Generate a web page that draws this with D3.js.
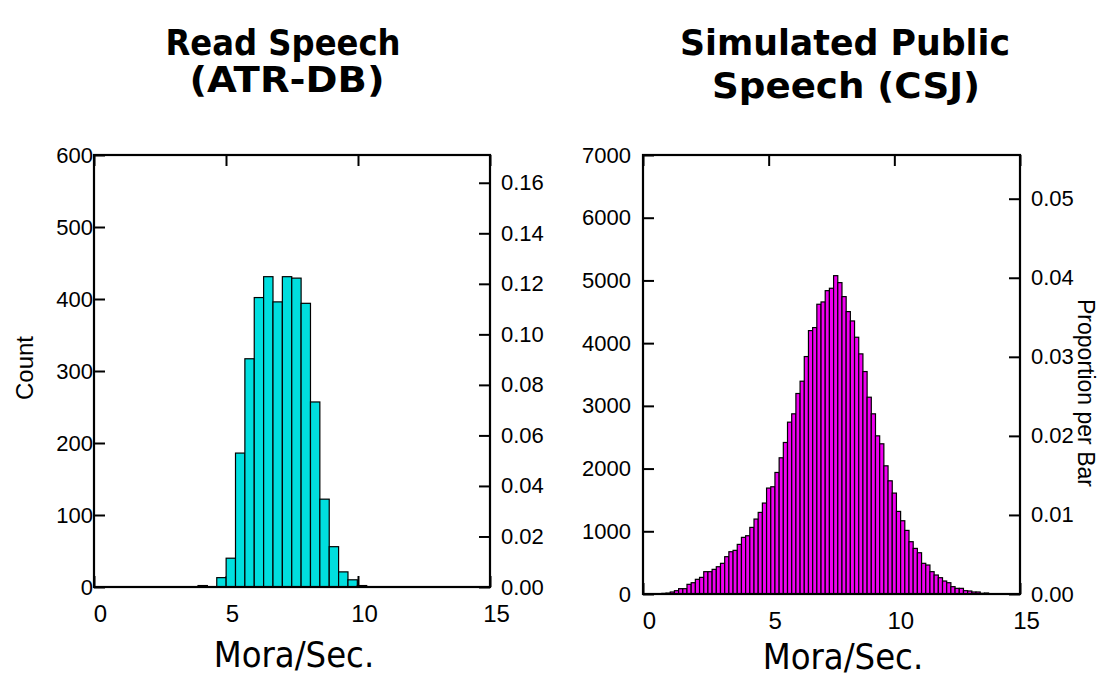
<!DOCTYPE html>
<html>
<head>
<meta charset="utf-8">
<script src="https://cdn.jsdelivr.net/npm/d3@7"></script>
<style>
  html, body { margin: 0; padding: 0; background: #fff; }
  svg { display: block; }
</style>
</head>
<body>
<svg id="chart" width="1104" height="682"></svg>
<script>
// ---------------- DATA ----------------
// Read Speech (ATR-DB): counts per bar
const leftCounts = [2, 0, 13, 40, 186, 317, 402, 431, 396, 431, 429, 394, 257, 122, 56, 21, 10, 2];
const leftBinStart = 3.94;
const leftBinWidth = 0.355;

// Simulated Public Speech (CSJ): counts per bar
const rightCounts = [
  10, 15, 32, 53, 85, 85, 154, 180, 234, 265,
  356, 356, 393, 435, 489, 595, 674, 696, 791, 903,
  929, 1062, 1195, 1301, 1450, 1689, 1710, 1938, 2172, 2416,
  2740, 2873, 3197, 3393, 3786, 4200, 4248, 4620, 4657, 4837,
  4875, 5076, 4965, 4742, 4503, 4354, 4094, 3829, 3547, 3138,
  2873, 2522, 2395, 2044, 1805, 1609, 1317, 1168, 1014, 834,
  727, 658, 489, 462, 356, 303, 260, 207, 180, 117,
  90, 90, 53, 48, 32, 32, 11, 16, 3, 3, 2, 2, 1, 1, 1
];
const rightBinStart = 0.75;
const rightBinWidth = 1 / 6;

const xTicks = [0, 5, 10, 15];
const leftCountTicks = [0, 100, 200, 300, 400, 500, 600];
const leftPropTicks = [0, 0.02, 0.04, 0.06, 0.08, 0.10, 0.12, 0.14, 0.16];
const rightCountTicks = [0, 1000, 2000, 3000, 4000, 5000, 6000, 7000];
const rightPropTicks = [0, 0.01, 0.02, 0.03, 0.04, 0.05];

const titles = [["Read Speech", "(ATR-DB)"], ["Simulated Public", "Speech (CSJ)"]];
const xLabel = "Mora/Sec.";
const yLabelLeft = "Count";
const yLabelRight = "Proportion per Bar";

// ---------------- DRAW ----------------
const svg = d3.select("#chart");
const tickFont = "'Liberation Sans', Arial, sans-serif";
const titleFont = "'DejaVu Sans Condensed', 'DejaVu Sans', Tahoma, sans-serif";

function panel(cfg) {
  const g = svg.append("g");
  const x = d3.scaleLinear().domain([0, 15]).range([cfg.x0, cfg.x1]);
  const y = d3.scaleLinear().domain([0, cfg.yMax]).range([cfg.y1, cfg.y0]);
  const total = d3.sum(cfg.counts);
  const yp = d3.scaleLinear().domain([0, cfg.yMax / total]).range([cfg.y1, cfg.y0]);

  // ticks (inward)
  const bottom = g.append("g").attr("transform", `translate(0,${cfg.y1})`)
    .call(d3.axisBottom(x).tickValues(xTicks).tickFormat(d3.format("d"))
      .tickSizeInner(-11).tickSizeOuter(0).tickPadding(18));
  bottom.select(".domain").remove();
  bottom.selectAll("text").attr("font-size", 24).attr("font-family", tickFont).attr("dx", 6).attr("fill", "#000");
  bottom.selectAll("line").attr("stroke-width", 2);

  const top = g.append("g").attr("transform", `translate(0,${cfg.y0})`)
    .call(d3.axisTop(x).tickValues(xTicks).tickFormat("").tickSizeInner(-11).tickSizeOuter(0));
  top.select(".domain").remove();
  top.selectAll("line").attr("stroke-width", 2);

  const left = g.append("g").attr("transform", `translate(${cfg.x0},0)`)
    .call(d3.axisLeft(y).tickValues(cfg.countTicks).tickFormat(d3.format("d"))
      .tickSizeInner(-11).tickSizeOuter(0).tickPadding(cfg.leftPad));
  left.select(".domain").remove();
  left.selectAll("text").attr("font-size", 22).attr("font-family", tickFont).attr("fill", "#000");
  left.selectAll("line").attr("stroke-width", 2);

  const right = g.append("g").attr("transform", `translate(${cfg.x1},0)`)
    .call(d3.axisRight(yp).tickValues(cfg.propTicks).tickFormat(d3.format(".2f"))
      .tickSizeInner(-11).tickSizeOuter(0).tickPadding(11));
  right.select(".domain").remove();
  right.selectAll("text").attr("font-size", 22).attr("font-family", tickFont).attr("fill", "#000");
  right.selectAll("line").attr("stroke-width", 2);

  // bars
  const bins = cfg.counts.map((c, i) => ({
    c,
    lo: cfg.binStart + i * cfg.binWidth,
    hi: cfg.binStart + (i + 1) * cfg.binWidth
  })).filter(b => b.c > 0);
  g.append("g").selectAll("rect").data(bins).join("rect")
    .attr("x", b => x(b.lo))
    .attr("width", b => x(b.hi) - x(b.lo))
    .attr("y", b => y(b.c))
    .attr("height", b => y(0) - y(b.c))
    .attr("fill", cfg.color)
    .attr("stroke", "#000")
    .attr("stroke-width", 1.2);

  // frame
  g.append("rect")
    .attr("x", cfg.x0).attr("y", cfg.y0)
    .attr("width", cfg.x1 - cfg.x0).attr("height", cfg.y1 - cfg.y0)
    .attr("fill", "none").attr("stroke", "#000").attr("stroke-width", 2.2);

  // titles
  cfg.title.forEach((t, k) => {
    g.append("text")
      .attr("x", cfg.titleX[k]).attr("y", cfg.titleY[k])
      .attr("text-anchor", "middle")
      .attr("font-family", titleFont).attr("font-weight", "bold").attr("font-size", 36)
      .attr("textLength", cfg.titleW[k]).attr("lengthAdjust", "spacingAndGlyphs")
      .attr("fill", "#000")
      .text(t);
  });

  // x label
  g.append("text")
    .attr("x", cfg.xLabelX).attr("y", cfg.xLabelY)
    .attr("text-anchor", "middle")
    .attr("font-family", titleFont).attr("font-size", 36)
    .attr("fill", "#000")
    .text(xLabel);
}

panel({
  x0: 94, x1: 490, y0: 155, y1: 587, yMax: 600,
  counts: leftCounts, binStart: leftBinStart, binWidth: leftBinWidth,
  countTicks: leftCountTicks, propTicks: leftPropTicks, leftPad: 1,
  color: "#00dede",
  title: titles[0], titleX: [283, 287], titleY: [55, 92], titleW: [235, 195],
  xLabelX: 294, xLabelY: 667
});

panel({
  x0: 643, x1: 1020, y0: 155, y1: 594, yMax: 7000,
  counts: rightCounts, binStart: rightBinStart, binWidth: rightBinWidth,
  countTicks: rightCountTicks, propTicks: rightPropTicks, leftPad: 12,
  color: "#f000f0",
  title: titles[1], titleX: [845, 846], titleY: [55, 98], titleW: [330, 268],
  xLabelX: 843, xLabelY: 669
});

// y labels
svg.append("text")
  .attr("transform", "translate(33,368) rotate(-90)")
  .attr("text-anchor", "middle")
  .attr("font-family", tickFont).attr("font-size", 24).attr("fill", "#000")
  .text(yLabelLeft);

svg.append("text")
  .attr("transform", "translate(1078,393) rotate(90)")
  .attr("text-anchor", "middle")
  .attr("font-family", tickFont).attr("font-size", 23).attr("fill", "#000")
  .text(yLabelRight);
</script>
</body>
</html>
